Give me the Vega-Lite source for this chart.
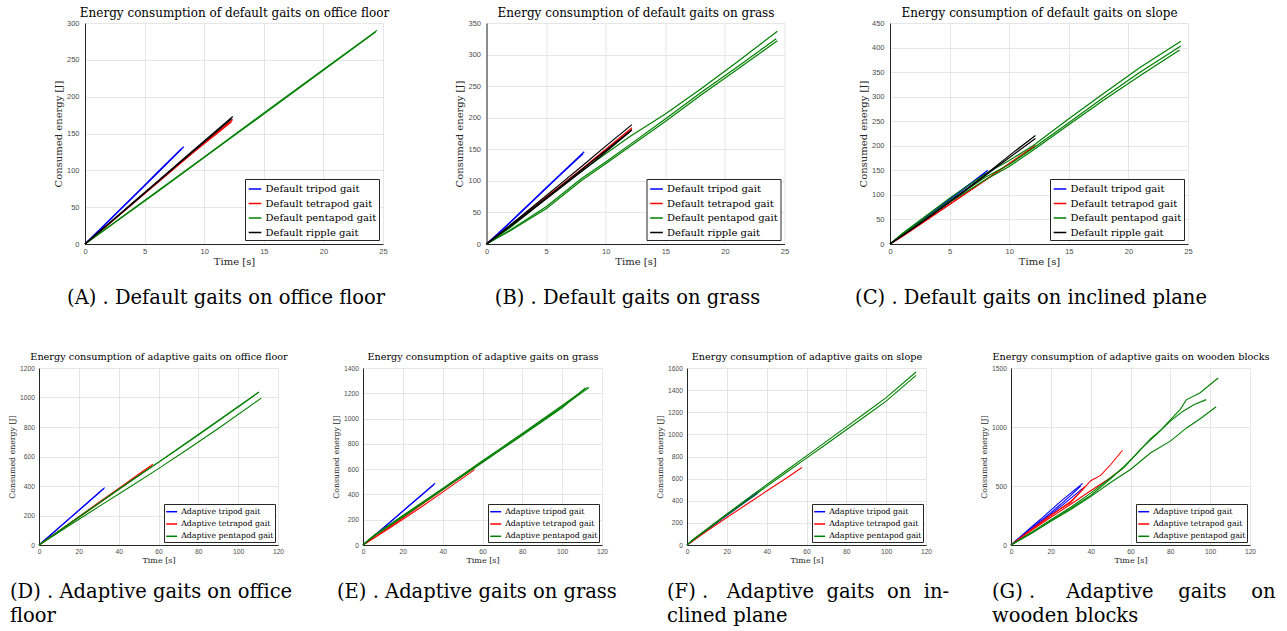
{
"$schema": "https://vega.github.io/schema/vega-lite/v6.json",
"background": "white",
"padding": {"left": 7, "top": 6, "right": 0, "bottom": 0},
"config": {
  "view": {"stroke": null},
  "font": "DejaVu Serif",
  "axis": {"labelFont": "Liberation Sans", "labelColor": "#4d4d4d", "domainColor": "#262626", "domainWidth": 1, "gridColor": "#e6e6e6", "gridWidth": 1, "ticks": false, "labelFlush": false, "labelOverlap": false, "titleFont": "DejaVu Serif", "titleFontWeight": "normal", "titleColor": "#262626", "titleLimit": 2000},
  "legend": {"symbolType": "stroke", "strokeColor": "#262626", "fillColor": "#ffffff", "labelFont": "DejaVu Serif", "labelColor": "#000000", "labelOffset": 3, "labelLimit": 400, "symbolStrokeWidth": 1.5},
  "title": {"font": "DejaVu Serif", "fontWeight": "normal", "color": "#000000", "lineHeight": 24, "limit": 2000}
},
"datasets": {
"a": [
{"gait":"Default tripod gait","trial":1,"time":0,"energy":0},{"gait":"Default tripod gait","trial":1,"time":1,"energy":16},{"gait":"Default tripod gait","trial":1,"time":2,"energy":32},{"gait":"Default tripod gait","trial":1,"time":3,"energy":48},{"gait":"Default tripod gait","trial":1,"time":4,"energy":64},{"gait":"Default tripod gait","trial":1,"time":5,"energy":80},{"gait":"Default tripod gait","trial":1,"time":6,"energy":96},{"gait":"Default tripod gait","trial":1,"time":7,"energy":112},{"gait":"Default tripod gait","trial":1,"time":8,"energy":128},{"gait":"Default tripod gait","trial":1,"time":8.3,"energy":132},
{"gait":"Default tripod gait","trial":2,"time":0,"energy":0},{"gait":"Default tripod gait","trial":2,"time":2,"energy":31},{"gait":"Default tripod gait","trial":2,"time":4,"energy":63},{"gait":"Default tripod gait","trial":2,"time":6,"energy":95},{"gait":"Default tripod gait","trial":2,"time":8.1,"energy":129},
{"gait":"Default tetrapod gait","trial":1,"time":0,"energy":0},{"gait":"Default tetrapod gait","trial":1,"time":2,"energy":27},{"gait":"Default tetrapod gait","trial":1,"time":4,"energy":55},{"gait":"Default tetrapod gait","trial":1,"time":6,"energy":82},{"gait":"Default tetrapod gait","trial":1,"time":8,"energy":110},{"gait":"Default tetrapod gait","trial":1,"time":10,"energy":137},{"gait":"Default tetrapod gait","trial":1,"time":12.4,"energy":169},
{"gait":"Default tetrapod gait","trial":2,"time":0,"energy":0},{"gait":"Default tetrapod gait","trial":2,"time":3,"energy":41},{"gait":"Default tetrapod gait","trial":2,"time":6,"energy":82},{"gait":"Default tetrapod gait","trial":2,"time":9,"energy":123},{"gait":"Default tetrapod gait","trial":2,"time":12.3,"energy":166},
{"gait":"Default pentapod gait","trial":1,"time":0,"energy":0},{"gait":"Default pentapod gait","trial":1,"time":5,"energy":59},{"gait":"Default pentapod gait","trial":1,"time":10,"energy":118},{"gait":"Default pentapod gait","trial":1,"time":15,"energy":178},{"gait":"Default pentapod gait","trial":1,"time":20,"energy":237},{"gait":"Default pentapod gait","trial":1,"time":24.5,"energy":290},
{"gait":"Default pentapod gait","trial":2,"time":0,"energy":0},{"gait":"Default pentapod gait","trial":2,"time":6,"energy":70},{"gait":"Default pentapod gait","trial":2,"time":12,"energy":141},{"gait":"Default pentapod gait","trial":2,"time":18,"energy":212},{"gait":"Default pentapod gait","trial":2,"time":24.4,"energy":288},
{"gait":"Default ripple gait","trial":1,"time":0,"energy":0},{"gait":"Default ripple gait","trial":1,"time":2,"energy":28},{"gait":"Default ripple gait","trial":1,"time":4,"energy":56},{"gait":"Default ripple gait","trial":1,"time":6,"energy":84},{"gait":"Default ripple gait","trial":1,"time":8,"energy":112},{"gait":"Default ripple gait","trial":1,"time":10,"energy":140},{"gait":"Default ripple gait","trial":1,"time":12.4,"energy":173},
{"gait":"Default ripple gait","trial":2,"time":0,"energy":0},{"gait":"Default ripple gait","trial":2,"time":4,"energy":55},{"gait":"Default ripple gait","trial":2,"time":8,"energy":111},{"gait":"Default ripple gait","trial":2,"time":12.3,"energy":170}
],
"b": [
{"gait":"Default tripod gait","trial":1,"time":0,"energy":0},{"gait":"Default tripod gait","trial":1,"time":1,"energy":17},{"gait":"Default tripod gait","trial":1,"time":2,"energy":35},{"gait":"Default tripod gait","trial":1,"time":3,"energy":53},{"gait":"Default tripod gait","trial":1,"time":4,"energy":71},{"gait":"Default tripod gait","trial":1,"time":5,"energy":89},{"gait":"Default tripod gait","trial":1,"time":6,"energy":107},{"gait":"Default tripod gait","trial":1,"time":7,"energy":125},{"gait":"Default tripod gait","trial":1,"time":8.2,"energy":146},
{"gait":"Default tripod gait","trial":2,"time":0,"energy":0},{"gait":"Default tripod gait","trial":2,"time":2,"energy":34},{"gait":"Default tripod gait","trial":2,"time":4,"energy":70},{"gait":"Default tripod gait","trial":2,"time":6,"energy":106},{"gait":"Default tripod gait","trial":2,"time":8.1,"energy":143},
{"gait":"Default tetrapod gait","trial":1,"time":0,"energy":0},{"gait":"Default tetrapod gait","trial":1,"time":2,"energy":29},{"gait":"Default tetrapod gait","trial":1,"time":4,"energy":59},{"gait":"Default tetrapod gait","trial":1,"time":6,"energy":89},{"gait":"Default tetrapod gait","trial":1,"time":8,"energy":119},{"gait":"Default tetrapod gait","trial":1,"time":10,"energy":150},{"gait":"Default tetrapod gait","trial":1,"time":12.2,"energy":184},
{"gait":"Default tetrapod gait","trial":2,"time":0,"energy":0},{"gait":"Default tetrapod gait","trial":2,"time":3,"energy":44},{"gait":"Default tetrapod gait","trial":2,"time":6,"energy":88},{"gait":"Default tetrapod gait","trial":2,"time":9,"energy":133},{"gait":"Default tetrapod gait","trial":2,"time":12.2,"energy":181},
{"gait":"Default pentapod gait","trial":1,"time":0,"energy":0},{"gait":"Default pentapod gait","trial":1,"time":2,"energy":26},{"gait":"Default pentapod gait","trial":1,"time":5,"energy":72},{"gait":"Default pentapod gait","trial":1,"time":8,"energy":116},{"gait":"Default pentapod gait","trial":1,"time":10,"energy":143},{"gait":"Default pentapod gait","trial":1,"time":12,"energy":170},{"gait":"Default pentapod gait","trial":1,"time":15,"energy":206},{"gait":"Default pentapod gait","trial":1,"time":18,"energy":246},{"gait":"Default pentapod gait","trial":1,"time":21,"energy":288},{"gait":"Default pentapod gait","trial":1,"time":24.4,"energy":337},
{"gait":"Default pentapod gait","trial":2,"time":0,"energy":0},{"gait":"Default pentapod gait","trial":2,"time":2,"energy":22},{"gait":"Default pentapod gait","trial":2,"time":5,"energy":59},{"gait":"Default pentapod gait","trial":2,"time":8,"energy":104},{"gait":"Default pentapod gait","trial":2,"time":10,"energy":130},{"gait":"Default pentapod gait","trial":2,"time":12,"energy":157},{"gait":"Default pentapod gait","trial":2,"time":15,"energy":198},{"gait":"Default pentapod gait","trial":2,"time":18,"energy":240},{"gait":"Default pentapod gait","trial":2,"time":21,"energy":280},{"gait":"Default pentapod gait","trial":2,"time":24.3,"energy":325},
{"gait":"Default pentapod gait","trial":3,"time":0,"energy":0},{"gait":"Default pentapod gait","trial":3,"time":2,"energy":21},{"gait":"Default pentapod gait","trial":3,"time":5,"energy":56},{"gait":"Default pentapod gait","trial":3,"time":8,"energy":101},{"gait":"Default pentapod gait","trial":3,"time":10,"energy":127},{"gait":"Default pentapod gait","trial":3,"time":12,"energy":154},{"gait":"Default pentapod gait","trial":3,"time":15,"energy":194},{"gait":"Default pentapod gait","trial":3,"time":18,"energy":236},{"gait":"Default pentapod gait","trial":3,"time":21,"energy":276},{"gait":"Default pentapod gait","trial":3,"time":24.4,"energy":322},
{"gait":"Default ripple gait","trial":1,"time":0,"energy":0},{"gait":"Default ripple gait","trial":1,"time":2,"energy":30},{"gait":"Default ripple gait","trial":1,"time":4,"energy":61},{"gait":"Default ripple gait","trial":1,"time":6,"energy":92},{"gait":"Default ripple gait","trial":1,"time":8,"energy":123},{"gait":"Default ripple gait","trial":1,"time":10,"energy":155},{"gait":"Default ripple gait","trial":1,"time":12.2,"energy":189},
{"gait":"Default ripple gait","trial":2,"time":0,"energy":0},{"gait":"Default ripple gait","trial":2,"time":3,"energy":43},{"gait":"Default ripple gait","trial":2,"time":6,"energy":88},{"gait":"Default ripple gait","trial":2,"time":9,"energy":133},{"gait":"Default ripple gait","trial":2,"time":12.2,"energy":181},
{"gait":"Default ripple gait","trial":3,"time":0,"energy":0},{"gait":"Default ripple gait","trial":3,"time":3,"energy":42},{"gait":"Default ripple gait","trial":3,"time":6,"energy":86},{"gait":"Default ripple gait","trial":3,"time":9,"energy":130},{"gait":"Default ripple gait","trial":3,"time":12.1,"energy":179}
],
"c": [
{"gait":"Default tripod gait","trial":1,"time":0,"energy":0},{"gait":"Default tripod gait","trial":1,"time":1,"energy":19},{"gait":"Default tripod gait","trial":1,"time":2,"energy":37},{"gait":"Default tripod gait","trial":1,"time":3,"energy":55},{"gait":"Default tripod gait","trial":1,"time":4,"energy":73},{"gait":"Default tripod gait","trial":1,"time":5,"energy":92},{"gait":"Default tripod gait","trial":1,"time":6,"energy":110},{"gait":"Default tripod gait","trial":1,"time":7,"energy":128},{"gait":"Default tripod gait","trial":1,"time":8.2,"energy":150},
{"gait":"Default tripod gait","trial":2,"time":0,"energy":0},{"gait":"Default tripod gait","trial":2,"time":2,"energy":36},{"gait":"Default tripod gait","trial":2,"time":4,"energy":72},{"gait":"Default tripod gait","trial":2,"time":6,"energy":108},{"gait":"Default tripod gait","trial":2,"time":8,"energy":145},
{"gait":"Default tetrapod gait","trial":1,"time":0,"energy":0},{"gait":"Default tetrapod gait","trial":1,"time":1,"energy":15},{"gait":"Default tetrapod gait","trial":1,"time":2,"energy":31},{"gait":"Default tetrapod gait","trial":1,"time":4,"energy":64},{"gait":"Default tetrapod gait","trial":1,"time":6,"energy":97},{"gait":"Default tetrapod gait","trial":1,"time":8,"energy":130},{"gait":"Default tetrapod gait","trial":1,"time":10,"energy":164},{"gait":"Default tetrapod gait","trial":1,"time":12.2,"energy":201},
{"gait":"Default tetrapod gait","trial":2,"time":0,"energy":0},{"gait":"Default tetrapod gait","trial":2,"time":3,"energy":48},{"gait":"Default tetrapod gait","trial":2,"time":6,"energy":97},{"gait":"Default tetrapod gait","trial":2,"time":9,"energy":147},{"gait":"Default tetrapod gait","trial":2,"time":12.1,"energy":198},
{"gait":"Default pentapod gait","trial":1,"time":0,"energy":0},{"gait":"Default pentapod gait","trial":1,"time":1,"energy":21},{"gait":"Default pentapod gait","trial":1,"time":3,"energy":57},{"gait":"Default pentapod gait","trial":1,"time":5,"energy":93},{"gait":"Default pentapod gait","trial":1,"time":8,"energy":143},{"gait":"Default pentapod gait","trial":1,"time":10,"energy":170},{"gait":"Default pentapod gait","trial":1,"time":12,"energy":200},{"gait":"Default pentapod gait","trial":1,"time":15,"energy":255},{"gait":"Default pentapod gait","trial":1,"time":18,"energy":308},{"gait":"Default pentapod gait","trial":1,"time":21,"energy":360},{"gait":"Default pentapod gait","trial":1,"time":24.4,"energy":413},
{"gait":"Default pentapod gait","trial":2,"time":0,"energy":0},{"gait":"Default pentapod gait","trial":2,"time":1,"energy":19},{"gait":"Default pentapod gait","trial":2,"time":3,"energy":53},{"gait":"Default pentapod gait","trial":2,"time":5,"energy":88},{"gait":"Default pentapod gait","trial":2,"time":8,"energy":136},{"gait":"Default pentapod gait","trial":2,"time":10,"energy":162},{"gait":"Default pentapod gait","trial":2,"time":12,"energy":195},{"gait":"Default pentapod gait","trial":2,"time":15,"energy":247},{"gait":"Default pentapod gait","trial":2,"time":18,"energy":300},{"gait":"Default pentapod gait","trial":2,"time":21,"energy":350},{"gait":"Default pentapod gait","trial":2,"time":24.4,"energy":403},
{"gait":"Default pentapod gait","trial":3,"time":0,"energy":0},{"gait":"Default pentapod gait","trial":3,"time":1,"energy":18},{"gait":"Default pentapod gait","trial":3,"time":3,"energy":51},{"gait":"Default pentapod gait","trial":3,"time":5,"energy":85},{"gait":"Default pentapod gait","trial":3,"time":8,"energy":131},{"gait":"Default pentapod gait","trial":3,"time":10,"energy":158},{"gait":"Default pentapod gait","trial":3,"time":12,"energy":191},{"gait":"Default pentapod gait","trial":3,"time":15,"energy":243},{"gait":"Default pentapod gait","trial":3,"time":18,"energy":294},{"gait":"Default pentapod gait","trial":3,"time":21,"energy":343},{"gait":"Default pentapod gait","trial":3,"time":24.3,"energy":395},
{"gait":"Default ripple gait","trial":1,"time":0,"energy":0},{"gait":"Default ripple gait","trial":1,"time":2,"energy":33},{"gait":"Default ripple gait","trial":1,"time":4,"energy":68},{"gait":"Default ripple gait","trial":1,"time":6,"energy":104},{"gait":"Default ripple gait","trial":1,"time":8,"energy":141},{"gait":"Default ripple gait","trial":1,"time":10,"energy":180},{"gait":"Default ripple gait","trial":1,"time":12.2,"energy":221},
{"gait":"Default ripple gait","trial":2,"time":0,"energy":0},{"gait":"Default ripple gait","trial":2,"time":3,"energy":50},{"gait":"Default ripple gait","trial":2,"time":6,"energy":103},{"gait":"Default ripple gait","trial":2,"time":9,"energy":158},{"gait":"Default ripple gait","trial":2,"time":12.2,"energy":215}
],
"d": [
{"gait":"Adaptive tripod gait","trial":1,"time":0,"energy":0},{"gait":"Adaptive tripod gait","trial":1,"time":5,"energy":59},{"gait":"Adaptive tripod gait","trial":1,"time":10,"energy":118},{"gait":"Adaptive tripod gait","trial":1,"time":15,"energy":177},{"gait":"Adaptive tripod gait","trial":1,"time":20,"energy":236},{"gait":"Adaptive tripod gait","trial":1,"time":25,"energy":295},{"gait":"Adaptive tripod gait","trial":1,"time":30,"energy":354},{"gait":"Adaptive tripod gait","trial":1,"time":33,"energy":389},
{"gait":"Adaptive tripod gait","trial":2,"time":0,"energy":0},{"gait":"Adaptive tripod gait","trial":2,"time":8,"energy":93},{"gait":"Adaptive tripod gait","trial":2,"time":16,"energy":187},{"gait":"Adaptive tripod gait","trial":2,"time":24,"energy":281},{"gait":"Adaptive tripod gait","trial":2,"time":32.5,"energy":382},
{"gait":"Adaptive tetrapod gait","trial":1,"time":0,"energy":0},{"gait":"Adaptive tetrapod gait","trial":1,"time":10,"energy":96},{"gait":"Adaptive tetrapod gait","trial":1,"time":20,"energy":192},{"gait":"Adaptive tetrapod gait","trial":1,"time":30,"energy":288},{"gait":"Adaptive tetrapod gait","trial":1,"time":40,"energy":384},{"gait":"Adaptive tetrapod gait","trial":1,"time":50,"energy":480},{"gait":"Adaptive tetrapod gait","trial":1,"time":57.2,"energy":548},
{"gait":"Adaptive tetrapod gait","trial":2,"time":0,"energy":0},{"gait":"Adaptive tetrapod gait","trial":2,"time":14,"energy":131},{"gait":"Adaptive tetrapod gait","trial":2,"time":28,"energy":263},{"gait":"Adaptive tetrapod gait","trial":2,"time":42,"energy":396},{"gait":"Adaptive tetrapod gait","trial":2,"time":56.4,"energy":532},
{"gait":"Adaptive pentapod gait","trial":1,"time":0,"energy":0},{"gait":"Adaptive pentapod gait","trial":1,"time":10,"energy":94},{"gait":"Adaptive pentapod gait","trial":1,"time":20,"energy":188},{"gait":"Adaptive pentapod gait","trial":1,"time":30,"energy":282},{"gait":"Adaptive pentapod gait","trial":1,"time":40,"energy":376},{"gait":"Adaptive pentapod gait","trial":1,"time":50,"energy":470},{"gait":"Adaptive pentapod gait","trial":1,"time":60,"energy":560},{"gait":"Adaptive pentapod gait","trial":1,"time":70,"energy":652},{"gait":"Adaptive pentapod gait","trial":1,"time":80,"energy":746},{"gait":"Adaptive pentapod gait","trial":1,"time":90,"energy":840},{"gait":"Adaptive pentapod gait","trial":1,"time":100,"energy":935},{"gait":"Adaptive pentapod gait","trial":1,"time":110.5,"energy":1037},
{"gait":"Adaptive pentapod gait","trial":2,"time":0,"energy":0},{"gait":"Adaptive pentapod gait","trial":2,"time":15,"energy":130},{"gait":"Adaptive pentapod gait","trial":2,"time":30,"energy":260},{"gait":"Adaptive pentapod gait","trial":2,"time":45,"energy":388},{"gait":"Adaptive pentapod gait","trial":2,"time":60,"energy":518},{"gait":"Adaptive pentapod gait","trial":2,"time":75,"energy":652},{"gait":"Adaptive pentapod gait","trial":2,"time":90,"energy":790},{"gait":"Adaptive pentapod gait","trial":2,"time":111.6,"energy":996},
{"gait":"Adaptive pentapod gait","trial":3,"time":0,"energy":0},{"gait":"Adaptive pentapod gait","trial":3,"time":20,"energy":190},{"gait":"Adaptive pentapod gait","trial":3,"time":40,"energy":378},{"gait":"Adaptive pentapod gait","trial":3,"time":60,"energy":562},{"gait":"Adaptive pentapod gait","trial":3,"time":80,"energy":750},{"gait":"Adaptive pentapod gait","trial":3,"time":100,"energy":940},{"gait":"Adaptive pentapod gait","trial":3,"time":110,"energy":1033}
],
"e": [
{"gait":"Adaptive tripod gait","trial":1,"time":0,"energy":0},{"gait":"Adaptive tripod gait","trial":1,"time":5,"energy":66},{"gait":"Adaptive tripod gait","trial":1,"time":10,"energy":133},{"gait":"Adaptive tripod gait","trial":1,"time":15,"energy":200},{"gait":"Adaptive tripod gait","trial":1,"time":20,"energy":268},{"gait":"Adaptive tripod gait","trial":1,"time":25,"energy":337},{"gait":"Adaptive tripod gait","trial":1,"time":30,"energy":405},{"gait":"Adaptive tripod gait","trial":1,"time":36.2,"energy":489},
{"gait":"Adaptive tripod gait","trial":2,"time":0,"energy":0},{"gait":"Adaptive tripod gait","trial":2,"time":9,"energy":118},{"gait":"Adaptive tripod gait","trial":2,"time":18,"energy":240},{"gait":"Adaptive tripod gait","trial":2,"time":27,"energy":362},{"gait":"Adaptive tripod gait","trial":2,"time":35.8,"energy":480},
{"gait":"Adaptive tetrapod gait","trial":1,"time":0,"energy":0},{"gait":"Adaptive tetrapod gait","trial":1,"time":10,"energy":105},{"gait":"Adaptive tetrapod gait","trial":1,"time":20,"energy":215},{"gait":"Adaptive tetrapod gait","trial":1,"time":30,"energy":325},{"gait":"Adaptive tetrapod gait","trial":1,"time":40,"energy":437},{"gait":"Adaptive tetrapod gait","trial":1,"time":50,"energy":548},{"gait":"Adaptive tetrapod gait","trial":1,"time":56.5,"energy":621},
{"gait":"Adaptive tetrapod gait","trial":2,"time":0,"energy":0},{"gait":"Adaptive tetrapod gait","trial":2,"time":14,"energy":140},{"gait":"Adaptive tetrapod gait","trial":2,"time":28,"energy":287},{"gait":"Adaptive tetrapod gait","trial":2,"time":42,"energy":440},{"gait":"Adaptive tetrapod gait","trial":2,"time":56,"energy":596},
{"gait":"Adaptive pentapod gait","trial":1,"time":0,"energy":0},{"gait":"Adaptive pentapod gait","trial":1,"time":3,"energy":45},{"gait":"Adaptive pentapod gait","trial":1,"time":6,"energy":82},{"gait":"Adaptive pentapod gait","trial":1,"time":10,"energy":125},{"gait":"Adaptive pentapod gait","trial":1,"time":20,"energy":233},{"gait":"Adaptive pentapod gait","trial":1,"time":30,"energy":340},{"gait":"Adaptive pentapod gait","trial":1,"time":40,"energy":448},{"gait":"Adaptive pentapod gait","trial":1,"time":50,"energy":557},{"gait":"Adaptive pentapod gait","trial":1,"time":60,"energy":666},{"gait":"Adaptive pentapod gait","trial":1,"time":70,"energy":774},{"gait":"Adaptive pentapod gait","trial":1,"time":80,"energy":883},{"gait":"Adaptive pentapod gait","trial":1,"time":90,"energy":993},{"gait":"Adaptive pentapod gait","trial":1,"time":100,"energy":1103},{"gait":"Adaptive pentapod gait","trial":1,"time":112.8,"energy":1249},
{"gait":"Adaptive pentapod gait","trial":2,"time":0,"energy":0},{"gait":"Adaptive pentapod gait","trial":2,"time":3,"energy":40},{"gait":"Adaptive pentapod gait","trial":2,"time":6,"energy":75},{"gait":"Adaptive pentapod gait","trial":2,"time":10,"energy":116},{"gait":"Adaptive pentapod gait","trial":2,"time":20,"energy":222},{"gait":"Adaptive pentapod gait","trial":2,"time":30,"energy":330},{"gait":"Adaptive pentapod gait","trial":2,"time":40,"energy":437},{"gait":"Adaptive pentapod gait","trial":2,"time":50,"energy":545},{"gait":"Adaptive pentapod gait","trial":2,"time":60,"energy":652},{"gait":"Adaptive pentapod gait","trial":2,"time":70,"energy":760},{"gait":"Adaptive pentapod gait","trial":2,"time":80,"energy":868},{"gait":"Adaptive pentapod gait","trial":2,"time":90,"energy":977},{"gait":"Adaptive pentapod gait","trial":2,"time":100,"energy":1086},{"gait":"Adaptive pentapod gait","trial":2,"time":111.5,"energy":1240},
{"gait":"Adaptive pentapod gait","trial":3,"time":0,"energy":0},{"gait":"Adaptive pentapod gait","trial":3,"time":5,"energy":68},{"gait":"Adaptive pentapod gait","trial":3,"time":10,"energy":121},{"gait":"Adaptive pentapod gait","trial":3,"time":20,"energy":228},{"gait":"Adaptive pentapod gait","trial":3,"time":40,"energy":444},{"gait":"Adaptive pentapod gait","trial":3,"time":60,"energy":660},{"gait":"Adaptive pentapod gait","trial":3,"time":80,"energy":876},{"gait":"Adaptive pentapod gait","trial":3,"time":100,"energy":1094},{"gait":"Adaptive pentapod gait","trial":3,"time":113.5,"energy":1245}
],
"f": [
{"gait":"Adaptive tripod gait","trial":1,"time":0,"energy":0},{"gait":"Adaptive tripod gait","trial":1,"time":5,"energy":70},{"gait":"Adaptive tripod gait","trial":1,"time":10,"energy":138},{"gait":"Adaptive tripod gait","trial":1,"time":15,"energy":206},{"gait":"Adaptive tripod gait","trial":1,"time":20,"energy":273},{"gait":"Adaptive tripod gait","trial":1,"time":25,"energy":340},{"gait":"Adaptive tripod gait","trial":1,"time":30,"energy":407},{"gait":"Adaptive tripod gait","trial":1,"time":36.3,"energy":492},
{"gait":"Adaptive tripod gait","trial":2,"time":0,"energy":0},{"gait":"Adaptive tripod gait","trial":2,"time":9,"energy":122},{"gait":"Adaptive tripod gait","trial":2,"time":18,"energy":241},{"gait":"Adaptive tripod gait","trial":2,"time":27,"energy":358},{"gait":"Adaptive tripod gait","trial":2,"time":35.5,"energy":468},
{"gait":"Adaptive tetrapod gait","trial":1,"time":0,"energy":0},{"gait":"Adaptive tetrapod gait","trial":1,"time":10,"energy":125},{"gait":"Adaptive tetrapod gait","trial":1,"time":20,"energy":248},{"gait":"Adaptive tetrapod gait","trial":1,"time":30,"energy":368},{"gait":"Adaptive tetrapod gait","trial":1,"time":40,"energy":488},{"gait":"Adaptive tetrapod gait","trial":1,"time":50,"energy":606},{"gait":"Adaptive tetrapod gait","trial":1,"time":57.7,"energy":700},
{"gait":"Adaptive pentapod gait","trial":1,"time":0,"energy":0},{"gait":"Adaptive pentapod gait","trial":1,"time":3,"energy":50},{"gait":"Adaptive pentapod gait","trial":1,"time":10,"energy":145},{"gait":"Adaptive pentapod gait","trial":1,"time":20,"energy":280},{"gait":"Adaptive pentapod gait","trial":1,"time":30,"energy":415},{"gait":"Adaptive pentapod gait","trial":1,"time":40,"energy":545},{"gait":"Adaptive pentapod gait","trial":1,"time":50,"energy":676},{"gait":"Adaptive pentapod gait","trial":1,"time":60,"energy":806},{"gait":"Adaptive pentapod gait","trial":1,"time":70,"energy":937},{"gait":"Adaptive pentapod gait","trial":1,"time":80,"energy":1068},{"gait":"Adaptive pentapod gait","trial":1,"time":90,"energy":1200},{"gait":"Adaptive pentapod gait","trial":1,"time":100,"energy":1332},{"gait":"Adaptive pentapod gait","trial":1,"time":115,"energy":1564},
{"gait":"Adaptive pentapod gait","trial":2,"time":0,"energy":0},{"gait":"Adaptive pentapod gait","trial":2,"time":3,"energy":45},{"gait":"Adaptive pentapod gait","trial":2,"time":10,"energy":138},{"gait":"Adaptive pentapod gait","trial":2,"time":20,"energy":270},{"gait":"Adaptive pentapod gait","trial":2,"time":30,"energy":400},{"gait":"Adaptive pentapod gait","trial":2,"time":40,"energy":530},{"gait":"Adaptive pentapod gait","trial":2,"time":50,"energy":658},{"gait":"Adaptive pentapod gait","trial":2,"time":60,"energy":785},{"gait":"Adaptive pentapod gait","trial":2,"time":70,"energy":913},{"gait":"Adaptive pentapod gait","trial":2,"time":80,"energy":1042},{"gait":"Adaptive pentapod gait","trial":2,"time":90,"energy":1170},{"gait":"Adaptive pentapod gait","trial":2,"time":100,"energy":1300},{"gait":"Adaptive pentapod gait","trial":2,"time":115,"energy":1534}
],
"g": [
{"gait":"Adaptive tripod gait","trial":1,"time":0,"energy":0},{"gait":"Adaptive tripod gait","trial":1,"time":5,"energy":75},{"gait":"Adaptive tripod gait","trial":1,"time":10,"energy":150},{"gait":"Adaptive tripod gait","trial":1,"time":15,"energy":220},{"gait":"Adaptive tripod gait","trial":1,"time":20,"energy":295},{"gait":"Adaptive tripod gait","trial":1,"time":25,"energy":370},{"gait":"Adaptive tripod gait","trial":1,"time":30,"energy":440},{"gait":"Adaptive tripod gait","trial":1,"time":36,"energy":522},
{"gait":"Adaptive tripod gait","trial":2,"time":0,"energy":0},{"gait":"Adaptive tripod gait","trial":2,"time":5,"energy":70},{"gait":"Adaptive tripod gait","trial":2,"time":10,"energy":140},{"gait":"Adaptive tripod gait","trial":2,"time":15,"energy":205},{"gait":"Adaptive tripod gait","trial":2,"time":20,"energy":275},{"gait":"Adaptive tripod gait","trial":2,"time":25,"energy":345},{"gait":"Adaptive tripod gait","trial":2,"time":30,"energy":420},{"gait":"Adaptive tripod gait","trial":2,"time":35,"energy":500},
{"gait":"Adaptive tripod gait","trial":3,"time":0,"energy":0},{"gait":"Adaptive tripod gait","trial":3,"time":5,"energy":68},{"gait":"Adaptive tripod gait","trial":3,"time":10,"energy":132},{"gait":"Adaptive tripod gait","trial":3,"time":15,"energy":195},{"gait":"Adaptive tripod gait","trial":3,"time":20,"energy":262},{"gait":"Adaptive tripod gait","trial":3,"time":26,"energy":340},{"gait":"Adaptive tripod gait","trial":3,"time":31,"energy":410},{"gait":"Adaptive tripod gait","trial":3,"time":36,"energy":480},
{"gait":"Adaptive tetrapod gait","trial":1,"time":0,"energy":0},{"gait":"Adaptive tetrapod gait","trial":1,"time":10,"energy":125},{"gait":"Adaptive tetrapod gait","trial":1,"time":20,"energy":250},{"gait":"Adaptive tetrapod gait","trial":1,"time":30,"energy":370},{"gait":"Adaptive tetrapod gait","trial":1,"time":36,"energy":470},{"gait":"Adaptive tetrapod gait","trial":1,"time":40,"energy":545},{"gait":"Adaptive tetrapod gait","trial":1,"time":45,"energy":590},{"gait":"Adaptive tetrapod gait","trial":1,"time":50,"energy":680},{"gait":"Adaptive tetrapod gait","trial":1,"time":56,"energy":803},
{"gait":"Adaptive tetrapod gait","trial":2,"time":0,"energy":0},{"gait":"Adaptive tetrapod gait","trial":2,"time":10,"energy":120},{"gait":"Adaptive tetrapod gait","trial":2,"time":20,"energy":235},{"gait":"Adaptive tetrapod gait","trial":2,"time":30,"energy":345},{"gait":"Adaptive tetrapod gait","trial":2,"time":40,"energy":460},{"gait":"Adaptive tetrapod gait","trial":2,"time":50,"energy":570},{"gait":"Adaptive tetrapod gait","trial":2,"time":56,"energy":648},
{"gait":"Adaptive tetrapod gait","trial":3,"time":0,"energy":0},{"gait":"Adaptive tetrapod gait","trial":3,"time":10,"energy":130},{"gait":"Adaptive tetrapod gait","trial":3,"time":20,"energy":255},{"gait":"Adaptive tetrapod gait","trial":3,"time":30,"energy":360},{"gait":"Adaptive tetrapod gait","trial":3,"time":37,"energy":495},
{"gait":"Adaptive pentapod gait","trial":1,"time":0,"energy":0},{"gait":"Adaptive pentapod gait","trial":1,"time":10,"energy":100},{"gait":"Adaptive pentapod gait","trial":1,"time":20,"energy":205},{"gait":"Adaptive pentapod gait","trial":1,"time":30,"energy":310},{"gait":"Adaptive pentapod gait","trial":1,"time":40,"energy":420},{"gait":"Adaptive pentapod gait","trial":1,"time":50,"energy":560},{"gait":"Adaptive pentapod gait","trial":1,"time":57,"energy":670},{"gait":"Adaptive pentapod gait","trial":1,"time":63,"energy":770},{"gait":"Adaptive pentapod gait","trial":1,"time":70,"energy":900},{"gait":"Adaptive pentapod gait","trial":1,"time":75,"energy":970},{"gait":"Adaptive pentapod gait","trial":1,"time":80,"energy":1060},{"gait":"Adaptive pentapod gait","trial":1,"time":85,"energy":1150},{"gait":"Adaptive pentapod gait","trial":1,"time":88,"energy":1230},{"gait":"Adaptive pentapod gait","trial":1,"time":95,"energy":1290},{"gait":"Adaptive pentapod gait","trial":1,"time":100,"energy":1360},{"gait":"Adaptive pentapod gait","trial":1,"time":104,"energy":1415},
{"gait":"Adaptive pentapod gait","trial":2,"time":0,"energy":0},{"gait":"Adaptive pentapod gait","trial":2,"time":10,"energy":105},{"gait":"Adaptive pentapod gait","trial":2,"time":20,"energy":215},{"gait":"Adaptive pentapod gait","trial":2,"time":30,"energy":320},{"gait":"Adaptive pentapod gait","trial":2,"time":40,"energy":440},{"gait":"Adaptive pentapod gait","trial":2,"time":50,"energy":570},{"gait":"Adaptive pentapod gait","trial":2,"time":57,"energy":660},{"gait":"Adaptive pentapod gait","trial":2,"time":65,"energy":810},{"gait":"Adaptive pentapod gait","trial":2,"time":72,"energy":920},{"gait":"Adaptive pentapod gait","trial":2,"time":80,"energy":1050},{"gait":"Adaptive pentapod gait","trial":2,"time":86,"energy":1130},{"gait":"Adaptive pentapod gait","trial":2,"time":92,"energy":1190},{"gait":"Adaptive pentapod gait","trial":2,"time":98,"energy":1232},
{"gait":"Adaptive pentapod gait","trial":3,"time":0,"energy":0},{"gait":"Adaptive pentapod gait","trial":3,"time":10,"energy":95},{"gait":"Adaptive pentapod gait","trial":3,"time":20,"energy":200},{"gait":"Adaptive pentapod gait","trial":3,"time":30,"energy":300},{"gait":"Adaptive pentapod gait","trial":3,"time":40,"energy":410},{"gait":"Adaptive pentapod gait","trial":3,"time":50,"energy":530},{"gait":"Adaptive pentapod gait","trial":3,"time":60,"energy":640},{"gait":"Adaptive pentapod gait","trial":3,"time":70,"energy":780},{"gait":"Adaptive pentapod gait","trial":3,"time":80,"energy":880},{"gait":"Adaptive pentapod gait","trial":3,"time":88,"energy":990},{"gait":"Adaptive pentapod gait","trial":3,"time":95,"energy":1070},{"gait":"Adaptive pentapod gait","trial":3,"time":103,"energy":1172}
]
},
"columns": 1,
"center": true,
"spacing": 44,
"resolve": {"scale": {"color": "independent"}, "legend": {"color": "independent"}},
"concat": [
{"hconcat": [
 {"width": 298, "height": 221, "data": {"name": "a"},
  "title": {"text": "(A) . Default gaits on office floor", "orient": "bottom", "anchor": "middle", "frame": "group", "dx": -8, "offset": 22, "fontSize": 19.5},
  "layer": [
   {"mark": {"type": "line", "strokeWidth": 1.2},
    "encoding": {
     "x": {"field": "time", "type": "quantitative", "scale": {"domain": [0, 25], "nice": false}, "axis": {"values": [0,5,10,15,20,25], "title": "Time [s]", "labelFontSize": 7.5, "labelPadding": 3, "titleFontSize": 10, "titlePadding": 2}},
     "y": {"field": "energy", "type": "quantitative", "scale": {"domain": [0, 300], "nice": false}, "axis": {"values": [0,50,100,150,200,250,300], "title": "Consumed energy [J]", "labelFontSize": 7.5, "labelPadding": 6, "titleFontSize": 10, "titlePadding": 3}},
     "color": {"field": "gait", "type": "nominal", "scale": {"domain": ["Default tripod gait","Default tetrapod gait","Default pentapod gait","Default ripple gait"], "range": ["#0000ff","#ff0000","#008000","#000000"]}, "legend": {"title": null, "orient": "bottom-right", "offset": 4, "labelFontSize": 10, "padding": 2.5, "rowPadding": 1.5, "symbolSize": 160}},
     "detail": {"field": "trial", "type": "nominal"}
    }},
   {"mark": {"type": "point", "opacity": 0},
    "encoding": {
     "x": {"field": "time", "type": "quantitative", "axis": {"orient": "top", "title": "Energy consumption of default gaits on office floor", "titleFontSize": 12, "titleColor": "#000000", "titlePadding": 3.8, "labels": false, "ticks": false, "domain": false, "grid": false}},
     "y": {"field": "energy", "type": "quantitative", "axis": {"orient": "left", "title": null, "labels": false, "ticks": false, "grid": false, "domain": true, "domainColor": "#ffffff", "offset": 78}}
    }}
  ],
  "resolve": {"axis": {"x": "independent", "y": "independent"}}
 },
 {"width": 298, "height": 221, "data": {"name": "b"},
  "title": {"text": "(B) . Default gaits on grass", "orient": "bottom", "anchor": "middle", "frame": "group", "dx": -8, "offset": 22, "fontSize": 19.5},
  "layer": [
   {"mark": {"type": "line", "strokeWidth": 1.2},
    "encoding": {
     "x": {"field": "time", "type": "quantitative", "scale": {"domain": [0, 25], "nice": false}, "axis": {"values": [0,5,10,15,20,25], "title": "Time [s]", "labelFontSize": 7.5, "labelPadding": 3, "titleFontSize": 10, "titlePadding": 2}},
     "y": {"field": "energy", "type": "quantitative", "scale": {"domain": [0, 350], "nice": false}, "axis": {"values": [0,50,100,150,200,250,300,350], "title": "Consumed energy [J]", "labelFontSize": 7.5, "labelPadding": 6, "titleFontSize": 10, "titlePadding": 3}},
     "color": {"field": "gait", "type": "nominal", "scale": {"domain": ["Default tripod gait","Default tetrapod gait","Default pentapod gait","Default ripple gait"], "range": ["#0000ff","#ff0000","#008000","#000000"]}, "legend": {"title": null, "orient": "bottom-right", "offset": 4, "labelFontSize": 10, "padding": 2.5, "rowPadding": 1.5, "symbolSize": 160}},
     "detail": {"field": "trial", "type": "nominal"}
    }},
   {"mark": {"type": "point", "opacity": 0},
    "encoding": {
     "x": {"field": "time", "type": "quantitative", "axis": {"orient": "top", "title": "Energy consumption of default gaits on grass", "titleFontSize": 12, "titleColor": "#000000", "titlePadding": 3.8, "labels": false, "ticks": false, "domain": false, "grid": false}},
     "y": {"field": "energy", "type": "quantitative", "axis": null}
    }}
  ],
  "resolve": {"axis": {"x": "independent", "y": "independent"}}
 },
 {"width": 298, "height": 221, "data": {"name": "c"},
  "title": {"text": "(C) . Default gaits on inclined plane", "orient": "bottom", "anchor": "middle", "frame": "group", "dx": -8, "offset": 22, "fontSize": 19.5},
  "layer": [
   {"mark": {"type": "line", "strokeWidth": 1.2},
    "encoding": {
     "x": {"field": "time", "type": "quantitative", "scale": {"domain": [0, 25], "nice": false}, "axis": {"values": [0,5,10,15,20,25], "title": "Time [s]", "labelFontSize": 7.5, "labelPadding": 3, "titleFontSize": 10, "titlePadding": 2}},
     "y": {"field": "energy", "type": "quantitative", "scale": {"domain": [0, 450], "nice": false}, "axis": {"values": [0,50,100,150,200,250,300,350,400,450], "title": "Consumed energy [J]", "labelFontSize": 7.5, "labelPadding": 6, "titleFontSize": 10, "titlePadding": 3}},
     "color": {"field": "gait", "type": "nominal", "scale": {"domain": ["Default tripod gait","Default tetrapod gait","Default pentapod gait","Default ripple gait"], "range": ["#0000ff","#ff0000","#008000","#000000"]}, "legend": {"title": null, "orient": "bottom-right", "offset": 4, "labelFontSize": 10, "padding": 2.5, "rowPadding": 1.5, "symbolSize": 160}},
     "detail": {"field": "trial", "type": "nominal"}
    }},
   {"mark": {"type": "point", "opacity": 0},
    "encoding": {
     "x": {"field": "time", "type": "quantitative", "axis": {"orient": "top", "title": "Energy consumption of default gaits on slope", "titleFontSize": 12, "titleColor": "#000000", "titlePadding": 3.8, "labels": false, "ticks": false, "domain": false, "grid": false}},
     "y": {"field": "energy", "type": "quantitative", "axis": {"orient": "right", "title": null, "labels": false, "ticks": false, "grid": false, "domain": true, "domainColor": "#ffffff", "offset": 56}}
    }}
  ],
  "resolve": {"axis": {"x": "independent", "y": "independent"}}
 }
], "spacing": 65.5, "resolve": {"scale": {"color": "independent"}, "legend": {"color": "independent"}}},
{"hconcat": [
 {"width": 239, "height": 177, "data": {"name": "d"},
  "title": {"text": ["(D) . Adaptive gaits on office", "floor"], "orient": "bottom", "anchor": "start", "align": "left", "frame": "group", "dx": -29, "offset": 19, "fontSize": 19.5},
  "layer": [
   {"mark": {"type": "line", "strokeWidth": 1.1},
    "encoding": {
     "x": {"field": "time", "type": "quantitative", "scale": {"domain": [0, 120], "nice": false}, "axis": {"values": [0,20,40,60,80,100,120], "title": "Time [s]", "labelFontSize": 6.7, "labelPadding": 3, "titleFontSize": 8, "titlePadding": 1.5}},
     "y": {"field": "energy", "type": "quantitative", "scale": {"domain": [0, 1200], "nice": false}, "axis": {"values": [0,200,400,600,800,1000,1200], "format": "d", "title": "Consumed energy [J]", "labelFontSize": 6.7, "labelPadding": 4.5, "titleFontSize": 7.8, "titlePadding": 3}},
     "color": {"field": "gait", "type": "nominal", "scale": {"domain": ["Adaptive tripod gait","Adaptive tetrapod gait","Adaptive pentapod gait"], "range": ["#0000ff","#ff0000","#008000"]}, "legend": {"title": null, "orient": "bottom-right", "offset": 3.5, "labelFontSize": 7.8, "padding": 1.2, "rowPadding": 1.3, "symbolSize": 120}},
     "detail": {"field": "trial", "type": "nominal"}
    }},
   {"mark": {"type": "point", "opacity": 0},
    "encoding": {
     "x": {"field": "time", "type": "quantitative", "axis": {"orient": "top", "title": "Energy consumption of adaptive gaits on office floor", "titleFontSize": 9.7, "titleColor": "#000000", "titlePadding": 6.5, "labels": false, "ticks": false, "domain": false, "grid": false}},
     "y": {"field": "energy", "type": "quantitative", "axis": {"orient": "right", "title": null, "labels": false, "ticks": false, "grid": false, "domain": true, "domainColor": "#ffffff", "offset": 25}}
    }}
  ],
  "resolve": {"axis": {"x": "independent", "y": "independent"}}
 },
 {"width": 239, "height": 177, "data": {"name": "e"},
  "title": {"text": "(E) . Adaptive gaits on grass", "orient": "bottom", "anchor": "start", "align": "left", "frame": "group", "dx": -26, "offset": 19, "fontSize": 19.5},
  "layer": [
   {"mark": {"type": "line", "strokeWidth": 1.1},
    "encoding": {
     "x": {"field": "time", "type": "quantitative", "scale": {"domain": [0, 120], "nice": false}, "axis": {"values": [0,20,40,60,80,100,120], "title": "Time [s]", "labelFontSize": 6.7, "labelPadding": 3, "titleFontSize": 8, "titlePadding": 1.5}},
     "y": {"field": "energy", "type": "quantitative", "scale": {"domain": [0, 1400], "nice": false}, "axis": {"values": [0,200,400,600,800,1000,1200,1400], "format": "d", "title": "Consumed energy [J]", "labelFontSize": 6.7, "labelPadding": 4.5, "titleFontSize": 7.8, "titlePadding": 3}},
     "color": {"field": "gait", "type": "nominal", "scale": {"domain": ["Adaptive tripod gait","Adaptive tetrapod gait","Adaptive pentapod gait"], "range": ["#0000ff","#ff0000","#008000"]}, "legend": {"title": null, "orient": "bottom-right", "offset": 3.5, "labelFontSize": 7.8, "padding": 1.2, "rowPadding": 1.3, "symbolSize": 120}},
     "detail": {"field": "trial", "type": "nominal"}
    }},
   {"mark": {"type": "point", "opacity": 0},
    "encoding": {
     "x": {"field": "time", "type": "quantitative", "axis": {"orient": "top", "title": "Energy consumption of adaptive gaits on grass", "titleFontSize": 9.7, "titleColor": "#000000", "titlePadding": 6.5, "labels": false, "ticks": false, "domain": false, "grid": false}},
     "y": {"field": "energy", "type": "quantitative", "axis": {"orient": "right", "title": null, "labels": false, "ticks": false, "grid": false, "domain": true, "domainColor": "#ffffff", "offset": 25}}
    }}
  ],
  "resolve": {"axis": {"x": "independent", "y": "independent"}}
 },
 {"width": 239, "height": 177, "data": {"name": "f"},
  "title": {"text": ["(F)\u00a0.\u00a0\u00a0 Adaptive\u00a0 gaits\u00a0 on\u00a0 in-", "clined plane"], "orient": "bottom", "anchor": "start", "align": "left", "frame": "group", "dx": -20, "offset": 19, "fontSize": 19.5},
  "layer": [
   {"mark": {"type": "line", "strokeWidth": 1.1},
    "encoding": {
     "x": {"field": "time", "type": "quantitative", "scale": {"domain": [0, 120], "nice": false}, "axis": {"values": [0,20,40,60,80,100,120], "title": "Time [s]", "labelFontSize": 6.7, "labelPadding": 3, "titleFontSize": 8, "titlePadding": 1.5}},
     "y": {"field": "energy", "type": "quantitative", "scale": {"domain": [0, 1600], "nice": false}, "axis": {"values": [0,200,400,600,800,1000,1200,1400,1600], "format": "d", "title": "Consumed energy [J]", "labelFontSize": 6.7, "labelPadding": 4.5, "titleFontSize": 7.8, "titlePadding": 3}},
     "color": {"field": "gait", "type": "nominal", "scale": {"domain": ["Adaptive tripod gait","Adaptive tetrapod gait","Adaptive pentapod gait"], "range": ["#0000ff","#ff0000","#008000"]}, "legend": {"title": null, "orient": "bottom-right", "offset": 3.5, "labelFontSize": 7.8, "padding": 1.2, "rowPadding": 1.3, "symbolSize": 120}},
     "detail": {"field": "trial", "type": "nominal"}
    }},
   {"mark": {"type": "point", "opacity": 0},
    "encoding": {
     "x": {"field": "time", "type": "quantitative", "axis": {"orient": "top", "title": "Energy consumption of adaptive gaits on slope", "titleFontSize": 9.7, "titleColor": "#000000", "titlePadding": 6.5, "labels": false, "ticks": false, "domain": false, "grid": false}},
     "y": {"field": "energy", "type": "quantitative", "axis": {"orient": "right", "title": null, "labels": false, "ticks": false, "grid": false, "domain": true, "domainColor": "#ffffff", "offset": 25}}
    }}
  ],
  "resolve": {"axis": {"x": "independent", "y": "independent"}}
 },
 {"width": 239, "height": 177, "data": {"name": "g"},
  "title": {"text": ["(G)\u00a0.\u00a0\u00a0\u00a0\u00a0 Adaptive\u00a0\u00a0\u00a0 gaits\u00a0\u00a0\u00a0 on", "wooden blocks"], "orient": "bottom", "anchor": "start", "align": "left", "frame": "group", "dx": -19, "offset": 19, "fontSize": 19.5},
  "layer": [
   {"mark": {"type": "line", "strokeWidth": 1.1},
    "encoding": {
     "x": {"field": "time", "type": "quantitative", "scale": {"domain": [0, 120], "nice": false}, "axis": {"values": [0,20,40,60,80,100,120], "title": "Time [s]", "labelFontSize": 6.7, "labelPadding": 3, "titleFontSize": 8, "titlePadding": 1.5}},
     "y": {"field": "energy", "type": "quantitative", "scale": {"domain": [0, 1500], "nice": false}, "axis": {"values": [0,500,1000,1500], "format": "d", "title": "Consumed energy [J]", "labelFontSize": 6.7, "labelPadding": 4.5, "titleFontSize": 7.8, "titlePadding": 3}},
     "color": {"field": "gait", "type": "nominal", "scale": {"domain": ["Adaptive tripod gait","Adaptive tetrapod gait","Adaptive pentapod gait"], "range": ["#0000ff","#ff0000","#008000"]}, "legend": {"title": null, "orient": "bottom-right", "offset": 3.5, "labelFontSize": 7.8, "padding": 1.2, "rowPadding": 1.3, "symbolSize": 120}},
     "detail": {"field": "trial", "type": "nominal"}
    }},
   {"mark": {"type": "point", "opacity": 0},
    "encoding": {
     "x": {"field": "time", "type": "quantitative", "axis": {"orient": "top", "title": "Energy consumption of adaptive gaits on wooden blocks", "titleFontSize": 9.7, "titleColor": "#000000", "titlePadding": 6.5, "labels": false, "ticks": false, "domain": false, "grid": false}},
     "y": {"field": "energy", "type": "quantitative", "axis": {"orient": "right", "title": null, "labels": false, "ticks": false, "grid": false, "domain": true, "domainColor": "#ffffff", "offset": 40}}
    }}
  ],
  "resolve": {"axis": {"x": "independent", "y": "independent"}}
 }
], "spacing": 29, "resolve": {"scale": {"color": "independent"}, "legend": {"color": "independent"}}}
]
}
